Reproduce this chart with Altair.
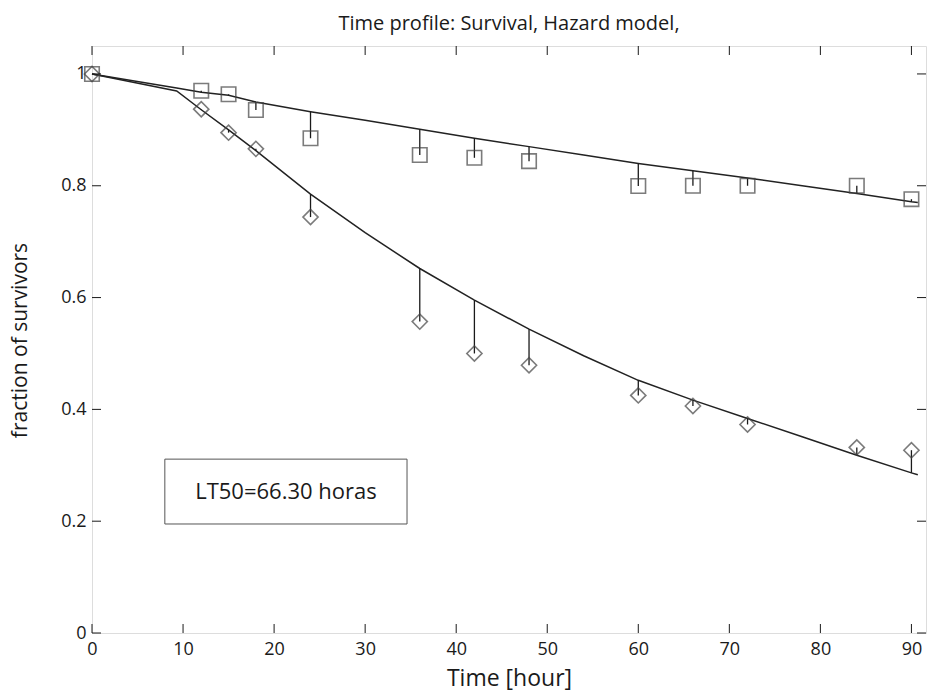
import altair as alt
import pandas as pd

# ---- data ----
obs_time = [0, 12, 15, 18, 24, 36, 42, 48, 60, 66, 72, 84, 90]
control_obs = [1.0, 0.970, 0.9636, 0.9355, 0.885, 0.855, 0.850, 0.844, 0.7995, 0.800, 0.800, 0.800, 0.776]
treated_obs = [1.0, 0.937, 0.895, 0.866, 0.744, 0.557, 0.500, 0.479, 0.425, 0.406, 0.373, 0.332, 0.327]

control_fit_time = [0, 9.3, 12, 15, 18, 24, 30, 36, 42, 48, 54, 60, 66, 72, 78, 84, 90, 90.7]
control_fit = [1.0, 0.975, 0.9674, 0.9617, 0.950, 0.9325, 0.917, 0.901, 0.885, 0.870, 0.855, 0.840, 0.827, 0.814, 0.800, 0.786, 0.7714, 0.770]
treated_fit_time = [0, 9.3, 12, 15, 18, 24, 30, 36, 42, 48, 54, 60, 66, 72, 78, 84, 90, 90.7]
treated_fit = [1.0, 0.9695, 0.936, 0.900, 0.863, 0.785, 0.716, 0.652, 0.5955, 0.5435, 0.496, 0.452, 0.4165, 0.3837, 0.351, 0.318, 0.2864, 0.283]

x_ticks = [0, 10, 20, 30, 40, 50, 60, 70, 80, 90]
y_ticks = [0, 0.2, 0.4, 0.6, 0.8, 1.0]

box_x = [8.0, 34.6]
box_y = [0.195, 0.311]
box_label = "LT50=66.30 horas"

title_text = "Time profile: Survival, Hazard model,"
x_title = "Time [hour]"
y_title = "fraction of survivors"

# ---- tables ----
fit_c = pd.DataFrame({"x": control_fit_time, "y": control_fit, "s": "control"})
fit_t = pd.DataFrame({"x": treated_fit_time, "y": treated_fit, "s": "treated"})
fits = pd.concat([fit_c, fit_t], ignore_index=True)

obs_c = pd.DataFrame({"x": obs_time, "y": control_obs, "s": "control"})
obs_t = pd.DataFrame({"x": obs_time, "y": treated_obs, "s": "treated"})
obs = pd.concat([obs_c, obs_t], ignore_index=True)
obs = obs.merge(fits.rename(columns={"y": "model"}), on=["x", "s"], how="left")

xt = pd.DataFrame({"x": x_ticks})
yt = pd.DataFrame({"y": y_ticks})
box = pd.DataFrame({"x": [box_x[0]], "x2": [box_x[1]], "y": [box_y[0]], "y2": [box_y[1]]})
lab = pd.DataFrame({"x": [(box_x[0] + box_x[1]) / 2], "y": [(box_y[0] + box_y[1]) / 2], "t": [box_label]})

W, H = 834, 587
FONT = "Open Sans"
INK = "#1a1a1a"

xs = alt.Scale(domain=[0, 91.6], nice=False, zero=False)
ys = alt.Scale(domain=[0, 1.05], nice=False, zero=False)
xaxis = alt.Axis(values=x_ticks, tickSize=0, domain=False, grid=False, labelFontSize=18,
                 labelFont=FONT, labelColor=INK, labelPadding=7, labelFlush=False,
                 title=x_title, titleFont=FONT, titleFontSize=23, titleFontWeight="normal",
                 titleColor=INK, titleY=45, titleBaseline="middle")
yaxis = alt.Axis(values=y_ticks, tickSize=0, domain=False, grid=False, labelFontSize=18,
                 labelFont=FONT, labelColor=INK, labelPadding=6, format="~g", labelFlush=False,
                 title=y_title, titleFont=FONT, titleFontSize=21, titleFontWeight="normal",
                 titleColor=INK, titleX=-72, titleY=294, titleAngle=-90,
                 titleAlign="center", titleBaseline="middle")

X = alt.X("x:Q", scale=xs, axis=xaxis)
Y = alt.Y("y:Q", scale=ys, axis=yaxis)

lines = alt.Chart(fits).mark_line(color="#222222", strokeWidth=1.5).encode(
    x=X, y=Y, detail="s:N", order="x:Q")

resid = alt.Chart(obs).mark_rule(color="#1a1a1a", strokeWidth=1.3).encode(
    x=X, y=Y, y2="model:Q")

pts = alt.Chart(obs).mark_point(filled=False, strokeWidth=1.6, color="#444444").encode(
    x=X, y=Y,
    shape=alt.Shape("s:N", scale=alt.Scale(domain=["control", "treated"], range=["square", "diamond"]), legend=None),
    size=alt.Size("s:N", scale=alt.Scale(domain=["control", "treated"], range=[210, 230]), legend=None))

tick_b = alt.Chart(xt).mark_rule(color=INK, strokeWidth=1).encode(x=X, y=alt.value(H), y2=alt.value(H - 9))
tick_t = alt.Chart(xt).mark_rule(color=INK, strokeWidth=1).encode(x=X, y=alt.value(0), y2=alt.value(9))
tick_l = alt.Chart(yt).mark_rule(color=INK, strokeWidth=1).encode(y=Y, x=alt.value(0), x2=alt.value(9))
tick_r = alt.Chart(yt).mark_rule(color=INK, strokeWidth=1).encode(y=Y, x=alt.value(W - 9), x2=alt.value(W))

rect = alt.Chart(box).mark_rect(fill="white", stroke="#555555", strokeWidth=1).encode(
    x=X, x2="x2:Q", y=Y, y2="y2:Q")
text = alt.Chart(lab).mark_text(font=FONT, fontSize=22, color=INK, align="center", baseline="middle").encode(
    x=X, y=Y, text="t:N")

chart = alt.layer(lines, resid, pts, tick_b, tick_t, tick_l, tick_r, rect, text).properties(
    width=W, height=H,
    autosize=alt.AutoSizeParams(type="none"),
    padding={"left": 92, "top": 46, "right": 1, "bottom": 60},
    title=alt.TitleParams(text=title_text, font=FONT, fontSize=20, fontWeight="normal",
                          color=INK, anchor="middle", offset=12),
).configure_view(stroke="#222222", strokeWidth=1.2).configure(background="white")

chart.save("out.html", embed_options={"renderer": "svg", "actions": False})
